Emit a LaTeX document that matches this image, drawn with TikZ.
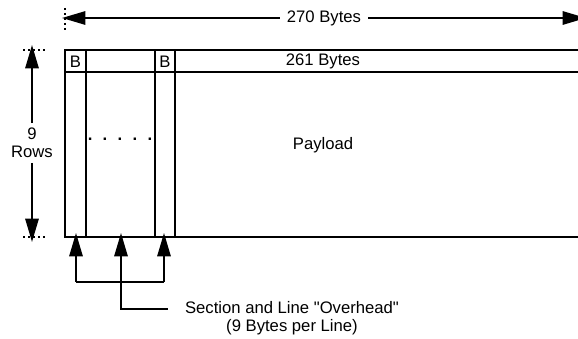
\documentclass[tikz,border=0pt]{standalone}
\usepackage{fontspec}
\setmainfont{Liberation Sans}[Ligatures=TeXOff]
\usetikzlibrary{arrows.meta}
\begin{document}
\begin{tikzpicture}[x=0.6pt,y=-0.6pt,
  every node/.style={font=\fontsize{10}{10.5}\selectfont, inner sep=0pt},
  ln/.style={line width=1.15pt},
  arr/.style={line width=1.15pt,-{Triangle[length=14pt,width=8pt]}},
  tick/.style={line width=1pt,dash pattern=on 1.2pt off 1.8pt},
  lbl/.style={fill=white, inner xsep=4pt, inner ysep=2pt}]
\useasboundingbox (0,0) rectangle (578,339);
% frame
\draw[ln] (590,50) -- (65,50) -- (65,237) -- (590,237);
\draw[ln] (65,72) -- (590,72);
\draw[ln] (86,50) -- (86,237);
\draw[ln] (155,50) -- (155,237);
\draw[ln] (175,50) -- (175,237);
\node (b1) at (75.5,61.5) {B};
\node (b2) at (165,61.5) {B};
\node (h261) at (323,61.5) {261 Bytes};
\node (pay) at (323,145) {Payload};
\node (dots) at (120,139) {\bfseries .\hspace{6.2pt}.\hspace{6.2pt}.\hspace{6.2pt}.\hspace{6.2pt}.};
% width dimension
\coordinate (tl) at (62,18);
\coordinate (tr) at (586,18);
\draw[tick] (65,8) -- (65,30);
\node[lbl] (w) at (324,18) {270 Bytes};
\draw[arr] (w) -- (tl);
\draw[arr] (w) -- (tr);
% height dimension
\draw[tick] (23,50) -- (45,50);
\draw[tick] (23,237) -- (45,237);
\coordinate (vt) at (32,45);
\coordinate (vb) at (32,242);
\node[align=center, inner ysep=3pt] (rows) at (32,143) {9\\Rows};
\draw[arr] (rows) -- (vt);
\draw[arr] (rows) -- (vb);
% overhead arrows
\coordinate (u1) at (76,233);
\coordinate (u2) at (121,233);
\coordinate (u3) at (164,233);
\coordinate (k1) at (76,282);
\coordinate (k2) at (121,282);
\coordinate (k3) at (164,282);
\coordinate (k4) at (121,309);
\coordinate (k5) at (168,309);
\node[align=center] (ovh) at (292,318) {Section and Line "Overhead"\\(9 Bytes per Line)};
\draw[arr] (k1) -- (u1);
\draw[arr] (k2) -- (u2);
\draw[arr] (k3) -- (u3);
\draw[ln] (k1) -- (k3);
\draw[ln] (k2) -- (k4) -- (k5);
\end{tikzpicture}
\end{document}
